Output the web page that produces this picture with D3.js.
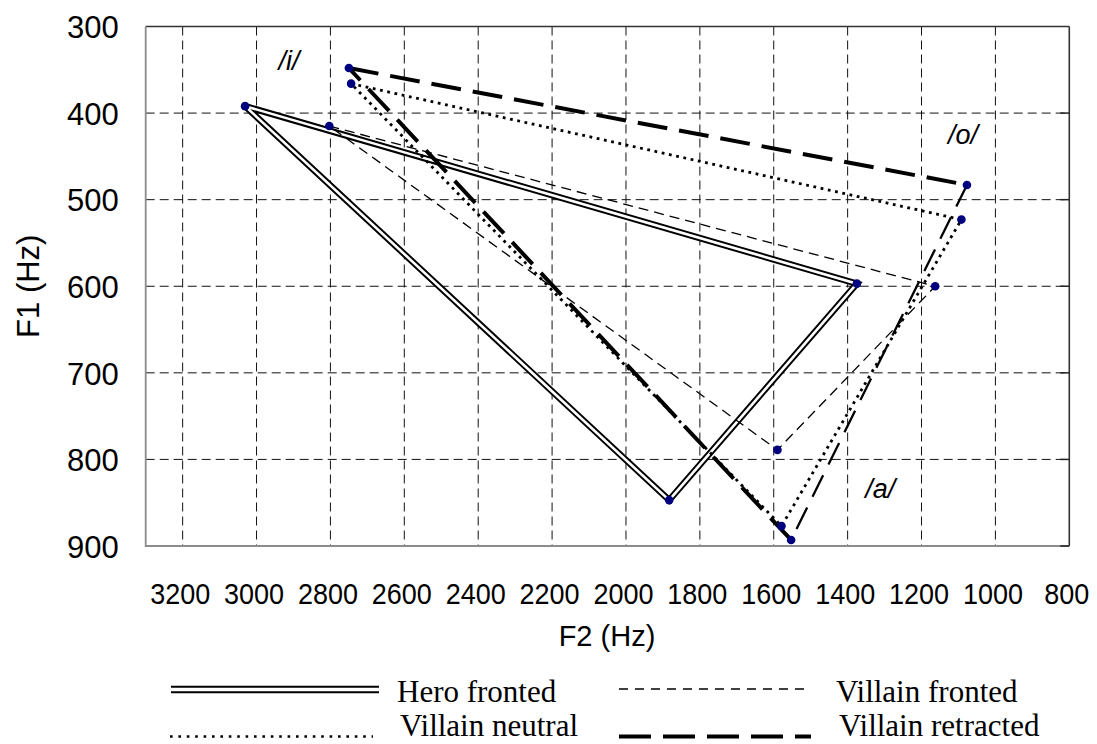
<!DOCTYPE html>
<html>
<head>
<meta charset="utf-8">
<script src="https://cdn.jsdelivr.net/npm/d3@7"></script>
<style>
  html, body { margin: 0; padding: 0; background: #fff; }
  svg { display: block; }
  .tick-label { font-family: "Liberation Sans", Arial, sans-serif; font-size: 30px; fill: #000; }
  .axis-title { font-family: "Liberation Sans", Arial, sans-serif; font-size: 29px; fill: #000; }
  .vowel { font-family: "Liberation Sans", Arial, sans-serif; font-size: 27px; font-style: italic; fill: #000; }
  .legend-text { font-family: "Liberation Serif", "Times New Roman", serif; font-size: 31px; fill: #000; }
</style>
</head>
<body>
<svg id="chart" width="1097" height="744"></svg>
<script>
// Formant means (Hz) per speaker condition, in vowel order /i/, /o/, /a/
const vowels = ["/i/", "/o/", "/a/"];
const heroFrontedF2 = [3031, 1375, 1883];
const heroFrontedF1 = [392, 597, 847];
const villainFrontedF2 = [2803, 1163, 1590];
const villainFrontedF1 = [415, 600, 789];
const villainNeutralF2 = [2744, 1092, 1579];
const villainNeutralF1 = [366, 523, 877];
const villainRetractedF2 = [2750, 1077, 1553];
const villainRetractedF1 = [348, 483, 893];

// Axis ticks
const f2Ticks = [3200, 3000, 2800, 2600, 2400, 2200, 2000, 1800, 1600, 1400, 1200, 1000, 800];
const f1Ticks = [300, 400, 500, 600, 700, 800, 900];

// Where the vowel names sit, in formant space
const vowelLabelF2 = [2912, 1088, 1312];
const vowelLabelF1 = [350, 436, 845];

const seriesNames = ["Hero fronted", "Villain fronted", "Villain neutral", "Villain retracted"];

const svg = d3.select("#chart");
const plot = { left: 145.7, right: 1069.3, top: 26.5, bottom: 546 };

// F2 runs right-to-left, F1 top-to-bottom (vowel-chart orientation)
const x = d3.scaleLinear().domain([3300, 800]).range([plot.left, plot.right]);
const y = d3.scaleLinear().domain([300, 900]).range([plot.top, plot.bottom]);

// Dashed grid
const grid = svg.append("g");
grid.selectAll("line.v")
  .data(f2Ticks.filter(d => d > 800))
  .join("line")
  .attr("x1", d => x(d)).attr("x2", d => x(d))
  .attr("y1", plot.top).attr("y2", plot.bottom)
  .attr("stroke", "#111").attr("stroke-width", 1)
  .attr("stroke-dasharray", "9,5");
grid.selectAll("line.h")
  .data(f1Ticks.filter(d => d > 300 && d < 900))
  .join("line")
  .attr("x1", plot.left).attr("x2", plot.right)
  .attr("y1", d => y(d)).attr("y2", d => y(d))
  .attr("stroke", "#111").attr("stroke-width", 1)
  .attr("stroke-dasharray", "9,5");

// Axes: labels only, lines are drawn as the frame below
const xAxis = d3.axisBottom(x).tickValues(f2Ticks).tickSize(0).tickPadding(0).tickFormat(d3.format("d"));
const gx = svg.append("g").attr("transform", `translate(0,${plot.bottom})`).call(xAxis);
gx.select(".domain").remove();
gx.attr("font-size", null).attr("font-family", null);
// slightly narrow the bottom labels so the row fits between gridlines
gx.selectAll(".tick text")
  .attr("class", "tick-label").attr("y", null).attr("dy", null).attr("fill", null)
  .attr("transform", "translate(-3,58) scale(0.9,1)");

const yAxis = d3.axisLeft(y).tickValues(f1Ticks).tickSize(0).tickPadding(0).tickFormat(d3.format("d"));
const gy = svg.append("g").attr("transform", `translate(${plot.left},0)`).call(yAxis);
gy.select(".domain").remove();
gy.attr("font-size", null).attr("font-family", null);
gy.selectAll(".tick text").attr("class", "tick-label").attr("x", -27).attr("dy", "0.36em")
  .attr("fill", null)
  .style("font-size", "31px");

// Axis titles
svg.append("text").attr("class", "axis-title")
  .attr("x", 607).attr("y", 646)
  .attr("text-anchor", "middle").text("F2 (Hz)");
svg.append("text").attr("class", "axis-title")
  .style("font-size", "31px")
  .attr("transform", `translate(39,${(plot.top + plot.bottom) / 2}) rotate(-90)`)
  .attr("text-anchor", "middle").text("F1 (Hz)");

// Series: closed vowel triangles, drawn edge by edge
const pts = (f2, f1) => f2.map((v, i) => [v, f1[i]]);
const edges = data => data.map((d, i) => [d, data[(i + 1) % data.length]]);
const seg = d3.line().x(d => x(d[0])).y(d => y(d[1]));

const series = [
  { name: seriesNames[0], data: pts(heroFrontedF2, heroFrontedF1) },
  { name: seriesNames[1], data: pts(villainFrontedF2, villainFrontedF1) },
  { name: seriesNames[2], data: pts(villainNeutralF2, villainNeutralF1) },
  { name: seriesNames[3], data: pts(villainRetractedF2, villainRetractedF1) }
];

// stroke layers per series; edge-specific overrides by edge index (0: i-o, 1: o-a, 2: a-i)
const styles = {
  "Hero fronted": [
    { stroke: "#000", width: 6.5, dash: null },
    { stroke: "#fff", width: 2.6, dash: null }
  ],
  "Villain fronted": [{ stroke: "#000", width: 1.3, dash: "10,6" }],
  "Villain neutral": [{ stroke: "#000", width: 2.8, dash: "2.8,4.6" }],
  "Villain retracted": [{ stroke: "#000", width: 4, dash: "30,12", edge: { 1: { width: 2.3, dash: "24,12" } } }]
};

const lines = svg.append("g");
series.forEach(s => {
  const path = d3.line().x(d => x(d[0])).y(d => y(d[1])).curve(d3.curveLinearClosed);
  styles[s.name].forEach(st => {
    if (st.edge) {
      edges(s.data).forEach((e, i) => {
        const o = st.edge[i] || {};
        lines.append("path")
          .datum(e)
          .attr("d", seg)
          .attr("fill", "none")
          .attr("stroke", st.stroke)
          .attr("stroke-width", o.width || st.width)
          .attr("stroke-dasharray", o.dash || st.dash);
      });
    } else {
      lines.append("path")
        .datum(s.data)
        .attr("d", path)
        .attr("fill", "none")
        .attr("stroke", st.stroke)
        .attr("stroke-width", st.width)
        .attr("stroke-linejoin", "miter")
        .attr("stroke-dasharray", st.dash);
    }
  });
});

// Data points
const dots = svg.append("g");
series.forEach(s => {
  dots.selectAll(null).data(s.data).join("circle")
    .attr("cx", d => x(d[0])).attr("cy", d => y(d[1]))
    .attr("r", 4.3).attr("fill", "#00007f");
});

// Vowel labels
svg.append("g").selectAll("text")
  .data(vowels)
  .join("text")
  .attr("class", "vowel")
  .attr("x", (d, i) => x(vowelLabelF2[i]))
  .attr("y", (d, i) => y(vowelLabelF1[i]))
  .attr("text-anchor", "middle")
  .text(d => d);

// Frame
const frame = svg.append("g");
frame.append("line").attr("x1", plot.left).attr("x2", plot.right).attr("y1", plot.top).attr("y2", plot.top)
  .attr("stroke", "#333").attr("stroke-width", 1.6);
frame.append("line").attr("x1", plot.right).attr("x2", plot.right).attr("y1", plot.top).attr("y2", plot.bottom)
  .attr("stroke", "#333").attr("stroke-width", 1.6);
frame.append("line").attr("x1", plot.left).attr("x2", plot.left).attr("y1", plot.top).attr("y2", plot.bottom + 1)
  .attr("stroke", "#8c8c8c").attr("stroke-width", 1.8);
frame.append("line").attr("x1", plot.left).attr("x2", plot.right).attr("y1", plot.bottom).attr("y2", plot.bottom)
  .attr("stroke", "#8c8c8c").attr("stroke-width", 1.8);
frame.selectAll("line.rt").data(f1Ticks.filter(d => d > 300)).join("line")
  .attr("x1", plot.right - 9).attr("x2", plot.right)
  .attr("y1", d => y(d)).attr("y2", d => y(d))
  .attr("stroke", "#222").attr("stroke-width", 1.5);

// Legend
const legendItems = [
  { name: seriesNames[0], x1: 171, x2: 379, ly: 689.5, tx: 397, ty: 702 },
  { name: seriesNames[1], x1: 619, x2: 811, ly: 689, tx: 836, ty: 702 },
  { name: seriesNames[2], x1: 170, x2: 373, ly: 736.5, tx: 400, ty: 736 },
  { name: seriesNames[3], x1: 619, x2: 811, ly: 736.5, tx: 839, ty: 736 }
];
const legendStyles = {
  "Hero fronted": [
    { stroke: "#000", width: 7.5, dash: null },
    { stroke: "#fff", width: 3.5, dash: null }
  ],
  "Villain fronted": [{ stroke: "#000", width: 1.5, dash: "9,7" }],
  "Villain neutral": [{ stroke: "#000", width: 2.6, dash: "2.6,5.8" }],
  "Villain retracted": [{ stroke: "#000", width: 4, dash: "32,12" }]
};
const legend = svg.append("g");
legendItems.forEach(it => {
  legendStyles[it.name].forEach(st => {
    legend.append("line")
      .attr("x1", it.x1).attr("x2", it.x2).attr("y1", it.ly).attr("y2", it.ly)
      .attr("stroke", st.stroke).attr("stroke-width", st.width)
      .attr("stroke-dasharray", st.dash);
  });
  legend.append("text").attr("class", "legend-text")
    .attr("x", it.tx).attr("y", it.ty).text(it.name);
});
</script>
</body>
</html>
